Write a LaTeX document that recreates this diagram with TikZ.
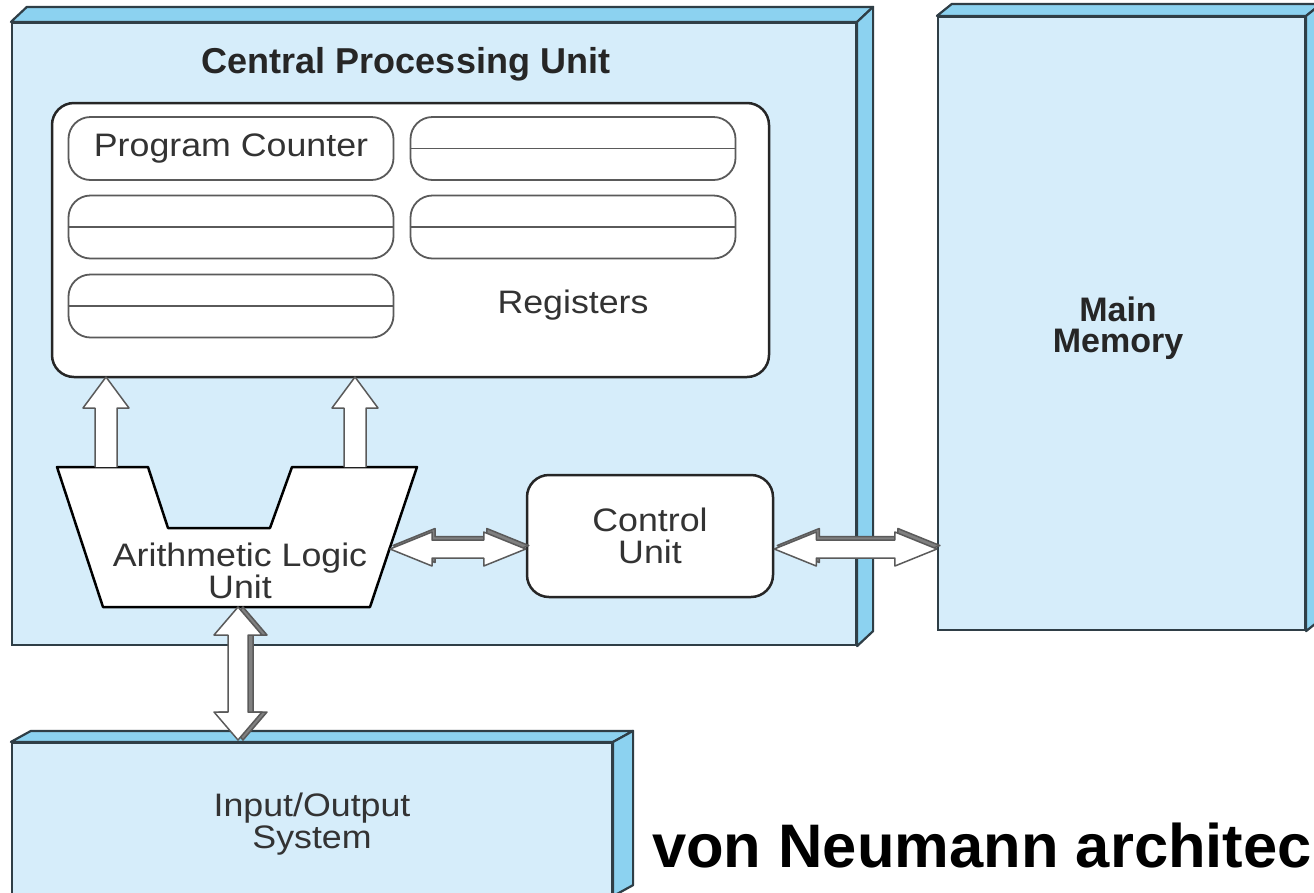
\documentclass[tikz,border=0pt]{standalone}
\usepackage{fontspec}
\usetikzlibrary{calc}
\newfontfamily\lab[FakeStretch=1.1]{Liberation Sans}
\newfontfamily\titlefont{Liberation Sans}
\definecolor{face}{HTML}{D6EDFA}
\definecolor{bevel}{HTML}{8CD2F0}
\definecolor{edge}{HTML}{2F3E46}
\definecolor{txt}{HTML}{333333}
\definecolor{agray}{HTML}{5A5A5A}
\definecolor{ashadow}{HTML}{808080}
\tikzset{
  face/.style={draw=edge, line width=2.2pt, fill=face, inner sep=0pt},
  bev/.style={draw=edge, line width=2.2pt, fill=bevel, line join=round},
  lbl/.style={font=\lab\fontsize{32.5}{32}\selectfont, text=txt, align=center, inner sep=0pt},
  blbl/.style={font=\titlefont\bfseries\fontsize{36}{31}\selectfont, text=black!85, align=center, inner sep=0pt},
  regbox/.style={draw=black!85, line width=2.5pt, fill=white, rounded corners=22pt, inner sep=0pt},
  pill/.style={draw=agray, line width=1.8pt, fill=white, rounded corners=22pt, minimum width=325pt, minimum height=63pt, inner sep=0pt},
  cubox/.style={draw=black!85, line width=2.5pt, fill=white, rounded corners=22pt, minimum width=246pt, minimum height=122pt, inner sep=0pt},
  fat/.style={draw=agray, line width=1.5pt, fill=white, line join=round},
  fatshadow/.style={draw=agray, line width=1.5pt, fill=ashadow, line join=round},
}
% horizontal double fat arrow between coordinates #1 (left) and #2 (right)
\newcommand\hfat[3]{\draw[#3] (#1) -- ($(#1)+(42,-17)$) -- ($(#1)+(42,-9)$) -- ($(#2)+(-42,-9)$) -- ($(#2)+(-42,-17)$) -- (#2) -- ($(#2)+(-42,17)$) -- ($(#2)+(-42,9)$) -- ($(#1)+(42,9)$) -- ($(#1)+(42,17)$) -- cycle;}
% vertical double fat arrow between #1 (top) and #2 (bottom)
\newcommand\vfat[3]{\draw[#3] (#1) -- ($(#1)+(24,28)$) -- ($(#1)+(10,28)$) -- ($(#2)+(10,-28)$) -- ($(#2)+(24,-28)$) -- (#2) -- ($(#2)+(-24,-28)$) -- ($(#2)+(-10,-28)$) -- ($(#1)+(-10,28)$) -- ($(#1)+(-24,28)$) -- cycle;}
% vertical single fat arrow from #1 (bottom) up to #2 (top)
\newcommand\vup[2]{\draw[fat] ($(#1)+(-11,0)$) -- ($(#2)+(-11,31)$) -- ($(#2)+(-23,31)$) -- (#2) -- ($(#2)+(23,31)$) -- ($(#2)+(11,31)$) -- ($(#1)+(11,0)$);}
\begin{document}
\begin{tikzpicture}[x=1pt,y=-1pt]
\fill[white] (0,0) rectangle (1314,892);
\useasboundingbox (0,0) rectangle (1314,892);

% ---------- CPU ----------
\node[face, minimum width=844pt, minimum height=622pt] (cpu) at (434,334) {};
\draw[bev] (cpu.north west) -- ++(16,-15) -- ($(cpu.north east)+(16,-15)$) -- (cpu.north east) -- cycle;
\draw[bev] (cpu.north east) -- ++(16,-15) -- ($(cpu.south east)+(16,-15)$) -- (cpu.south east) -- cycle;
\node[blbl] (cputitle) at (406,64) {Central Processing Unit};

% ---------- Main memory ----------
\node[face, minimum width=367pt, minimum height=613pt] (mm) at (1121.5,323.5) {};
\draw[bev] (mm.north west) -- ++(15,-12) -- ($(mm.north east)+(15,-12)$) -- (mm.north east) -- cycle;
\draw[bev] (mm.north east) -- ++(15,-12) -- ($(mm.south east)+(15,-12)$) -- (mm.south east) -- cycle;
\node[blbl, font=\titlefont\bfseries\fontsize{34}{31}\selectfont] (mmtext) at (1118,328) {Main\\Memory};

% ---------- I/O ----------
\node[face, minimum width=600pt, minimum height=152pt] (io) at (312,819) {};
\draw[bev] (io.north west) -- ++(20,-11) -- ($(io.north east)+(20,-11)$) -- (io.north east) -- cycle;
\draw[bev] (io.north east) -- ++(20,-11) -- ($(io.south east)+(20,-11)$) -- (io.south east) -- cycle;
\node[lbl] (iotext) at (312,824) {Input/Output\\System};

% ---------- Registers ----------
\node[regbox, minimum width=717pt, minimum height=274pt] (regs) at (410.5,240) {};
\node[pill, font=\lab\fontsize{32.5}{30}\selectfont, text=txt] (pc) at (231,148.5) {Program Counter};
\node[pill] (r1) at (573,148.5) {};
\node[pill] (r2) at (231,227) {};
\node[pill] (r3) at (573,227) {};
\node[pill] (r4) at (231,306) {};
\foreach \r in {r1,r2,r3,r4} \draw[agray, line width=1.8pt] (\r.west) -- (\r.east);
\node[lbl] (regtext) at (573,305) {Registers};

% ---------- ALU ----------
\draw[black, line width=2.5pt, fill=white, line join=round]
  (57,467) -- (148,467) -- (168,528) -- (270,528) -- (292,467) -- (417,467) -- (370,607) -- (103,607) -- cycle;
\node[lbl] (alu) at (240,571) {Arithmetic Logic\\Unit};
\coordinate (aluL) at (106,467);
\coordinate (aluR) at (355,467);
\coordinate (regL) at (106,377);
\coordinate (regR) at (355,377);
\coordinate (aluE) at (390,549);
\coordinate (aluS) at (238,607);
\coordinate (ioN) at (238,740);

% ---------- Control unit ----------
\node[cubox, lbl, minimum width=246pt, minimum height=122pt] (cu) at (650,536) {Control\\Unit};
\coordinate (cuW) at (cu.west |- aluE);
\coordinate (cuE) at (cu.east |- aluE);
\coordinate (mmW) at (mm.west |- aluE);

% ---------- Arrows ----------
\vup{aluL}{regL}
\vup{aluR}{regR}
\hfat{aluE}{cuW}{fatshadow, transform canvas={shift={(3pt,3.5pt)}}}
\hfat{aluE}{cuW}{fat}
\hfat{cuE}{mmW}{fatshadow, transform canvas={shift={(3pt,3.5pt)}}}
\hfat{cuE}{mmW}{fat}
\vfat{aluS}{ioN}{fatshadow, transform canvas={shift={(5pt,0pt)}}}
\vfat{aluS}{ioN}{fat}

% ---------- Title ----------
\node[anchor=base west, inner sep=0pt, font=\titlefont\bfseries\fontsize{61.5}{72}\selectfont] (title) at (652,867) {von Neumann architec};
\end{tikzpicture}
\end{document}
